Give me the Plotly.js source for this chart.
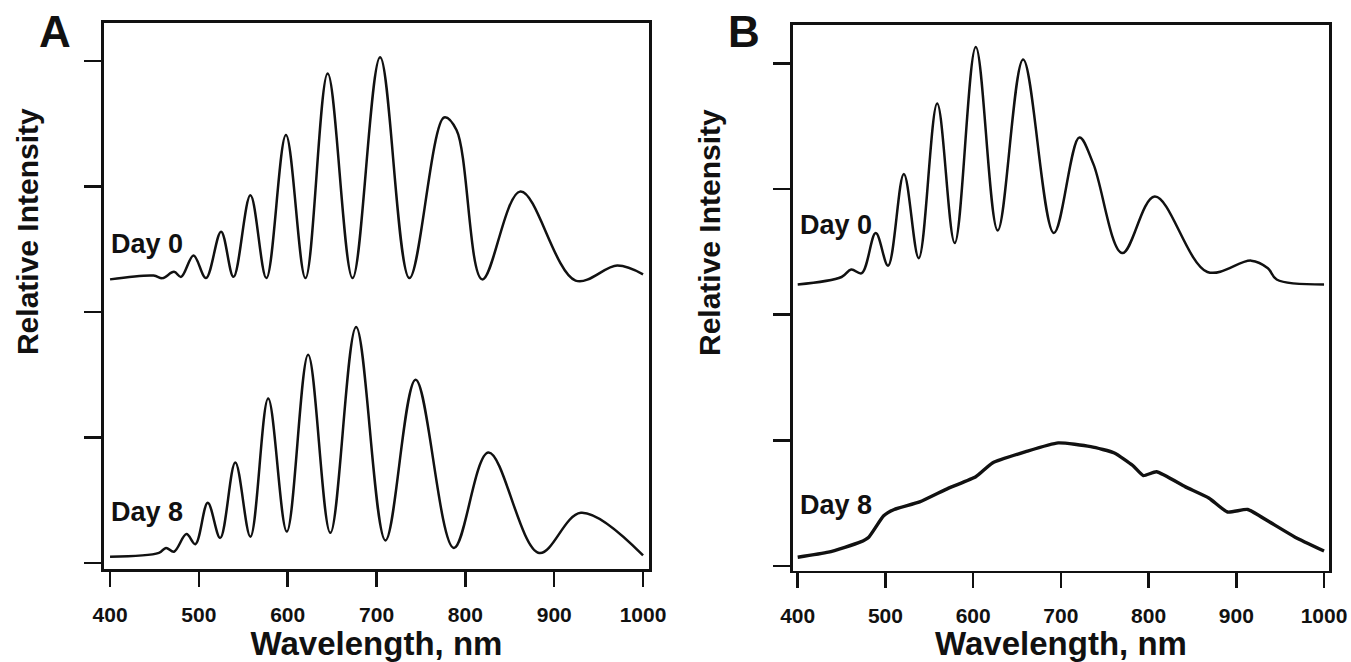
<!DOCTYPE html>
<html><head><meta charset="utf-8">
<script src="https://cdn.plot.ly/plotly-3.0.1.min.js"></script>
<style>html,body{margin:0;padding:0;background:#fff}#chart{width:1351px;height:662px}</style>
</head><body><div id="chart"></div>
<script>
// ---- data ----
const xTicks = [400, 500, 600, 700, 800, 900, 1000];
const yTicks = [0, 1, 2, 3, 4];
const panelLabels = ['A', 'B'];
const seriesLabels = ['Day 0', 'Day 8'];
const xTitle = 'Wavelength, nm';
const yTitle = 'Relative Intensity';

// Panel A, Day 0
const wlA0  = [400, 449, 459, 472, 480, 494, 508, 525, 539, 558, 576, 598, 620, 645, 673, 704, 737, 776, 790, 819, 862, 924, 971, 1000];
const intA0 = [2.26, 2.29, 2.27, 2.32, 2.28, 2.45, 2.27, 2.64, 2.28, 2.93, 2.27, 3.41, 2.27, 3.90, 2.27, 4.03, 2.27, 3.55, 3.45, 2.26, 2.96, 2.25, 2.37, 2.30];
// Panel A, Day 8
const wlA8  = [400, 455, 463, 472, 486, 496, 510, 524, 541, 558, 578, 599, 623, 648, 677, 710, 744, 787, 826, 883, 930, 1000];
const intA8 = [0.05, 0.08, 0.12, 0.09, 0.23, 0.15, 0.48, 0.20, 0.80, 0.21, 1.31, 0.25, 1.66, 0.24, 1.88, 0.18, 1.46, 0.12, 0.88, 0.08, 0.40, 0.06];
// Panel B, Day 0
const wlB0  = [400, 450, 461, 473, 489, 503, 521, 538, 559, 579, 603, 628, 657, 692, 721, 737, 770, 807, 867, 917, 936, 946, 1000];
const intB0 = [2.24, 2.30, 2.36, 2.33, 2.65, 2.39, 3.12, 2.45, 3.68, 2.57, 4.13, 2.67, 4.03, 2.65, 3.41, 3.20, 2.49, 2.94, 2.34, 2.43, 2.37, 2.28, 2.24];
// Panel B, Day 8
const wlB8  = [400, 435, 471, 481, 498, 510, 539, 572, 603, 622, 660, 697, 734, 761, 782, 794, 809, 842, 869, 890, 913, 938, 967, 1000];
const intB8 = [0.07, 0.11, 0.19, 0.23, 0.40, 0.45, 0.51, 0.62, 0.71, 0.82, 0.91, 0.98, 0.95, 0.90, 0.80, 0.72, 0.75, 0.63, 0.54, 0.43, 0.45, 0.35, 0.23, 0.12];

// ---- styling ----
const INK = '#111111';
const FONT = 'Arial, "Liberation Sans", Helvetica, sans-serif';

function line(x, y, xa, ya, w, smooth) {
  return {x: x, y: y, xaxis: xa, yaxis: ya, type: 'scatter', mode: 'lines',
    line: {color: INK, width: w, shape: 'spline', smoothing: smooth}, hoverinfo: 'skip', showlegend: false};
}

const data = [
  line(wlA0, intA0, 'x', 'y', 2.5, 1),
  line(wlA8, intA8, 'x', 'y', 2.5, 1),
  line(wlB0, intB0, 'x2', 'y2', 2.5, 1),
  line(wlB8, intB8, 'x2', 'y2', 3.4, 0.5)
];

function xAxis(domain, range, anchor) {
  return {domain: domain, range: range, anchor: anchor, tickvals: xTicks, ticktext: xTicks.map(String),
    ticks: 'outside', ticklen: 15, tickwidth: 2.5, tickcolor: INK,
    showline: true, linewidth: 2.5, linecolor: INK, mirror: true,
    showgrid: false, zeroline: false, ticklabelstandoff: 10,
    tickfont: {family: FONT, size: 21, weight: 'bold', color: INK},
    title: {text: xTitle, font: {family: FONT, size: 33, weight: 'bold', color: INK}, standoff: 8},
    automargin: false, fixedrange: true};
}
function yAxis(domain, range, anchor) {
  return {domain: domain, range: range, anchor: anchor, tickvals: yTicks, showticklabels: false,
    ticks: 'outside', ticklen: 17, tickwidth: 2.5, tickcolor: INK,
    showline: true, linewidth: 2.5, linecolor: INK, mirror: true,
    showgrid: false, zeroline: false, automargin: false, fixedrange: true};
}

function dayNote(xref, yref, x, y, txt) {
  return {xref: xref, yref: yref, x: x, y: y, text: txt, showarrow: false, xanchor: 'left', yanchor: 'middle',
    borderpad: 0, font: {family: FONT, size: 27, weight: 'bold', color: INK}};
}
function panelNote(x, txt) {
  return {xref: 'paper', yref: 'paper', x: x, y: 0.953, text: txt, showarrow: false, xanchor: 'center', yanchor: 'middle',
    font: {family: FONT, size: 44, weight: 'bold', color: INK}};
}
function yTitleNote(x, y) {
  return {xref: 'paper', yref: 'paper', x: x, y: y, text: yTitle, showarrow: false, textangle: -90,
    xanchor: 'center', yanchor: 'middle', font: {family: FONT, size: 30, weight: 'bold', color: INK}};
}

const layout = {
  width: 1351, height: 662,
  margin: {l: 0, r: 0, t: 0, b: 0, autoexpand: false},
  paper_bgcolor: '#ffffff', plot_bgcolor: '#ffffff',
  xaxis: xAxis([0.07698, 0.48039], [393.2, 1006.7], 'y'),
  yaxis: yAxis([0.14048, 0.96526], [-0.048, 4.303], 'x'),
  xaxis2: xAxis([0.58675, 0.98394], [394.3, 1006], 'y2'),
  yaxis2: yAxis([0.13792, 0.96224], [-0.037, 4.305], 'x2'),
  annotations: [
    panelNote(0.0407, panelLabels[0]),
    panelNote(0.5507, panelLabels[1]),
    yTitleNote(0.0200, 0.6495),
    yTitleNote(0.5248, 0.6480),
    dayNote('x', 'y', 400, 2.54, seriesLabels[0]),
    dayNote('x', 'y', 400, 0.41, seriesLabels[1]),
    dayNote('x2', 'y2', 401, 2.71, seriesLabels[0]),
    dayNote('x2', 'y2', 401, 0.485, seriesLabels[1])
  ],
  showlegend: false
};

Plotly.newPlot('chart', data, layout, {staticPlot: true, displayModeBar: false});
</script>
</body></html>
